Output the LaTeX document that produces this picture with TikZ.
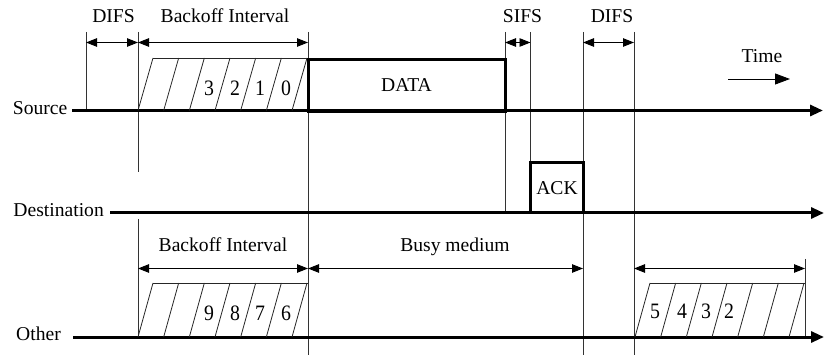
\documentclass[tikz,border=0pt]{standalone}
\usepackage{fontspec}
\setmainfont{Liberation Serif}
\usetikzlibrary{arrows.meta}
\tikzset{
  lbl/.style={inner sep=0pt, font=\fontsize{19.6}{22}\selectfont},
  digit/.style={inner sep=0pt, xscale=0.9, font=\fontsize{22}{24}\selectfont},
  timeline/.style={line width=3pt, -{Triangle[length=13pt,width=11pt]}},
  guide/.style={line width=0.8pt, black!80},
  slant/.style={line width=0.8pt, black!85},
  dim/.style={line width=0.9pt, {Triangle[length=11pt,width=8.5pt]}-{Triangle[length=11pt,width=8.5pt]}},
  pkt/.style={draw, line width=3pt, inner sep=0pt, font=\fontsize{19.6}{22}\selectfont}
}
\newcommand\bkoff[3]{%
  \draw[slant] (#1+15,#3) -- (#1+169.5,#3);
  \foreach \k in {0,...,6} {\draw[slant] (#1+\k*25.67,#2) -- (#1+\k*25.67+15,#3);}
}
\begin{document}
\begin{tikzpicture}[x=1pt,y=-1pt]
\useasboundingbox (0,0) rectangle (825,358);

% guides
\draw[guide] (86,32) -- (86,110.5);
\draw[guide] (138,32) -- (138,172);
\draw[guide] (138,219) -- (138,337);
\draw[guide] (308,32) -- (308,355);
\draw[guide] (505,32) -- (505,213);
\draw[guide] (530.5,32) -- (530.5,163);
\draw[guide] (583,32) -- (583,355);
\draw[guide] (634,32) -- (634,355);
\draw[guide] (805,259) -- (805,337);

% timelines
\coordinate (srcS) at (72,110.5);  \coordinate (srcE) at (823,110.5);
\coordinate (dstS) at (110,213);   \coordinate (dstE) at (824,213);
\coordinate (othS) at (73,337);    \coordinate (othE) at (824,337);
\draw[timeline] (srcS) -- (srcE);
\draw[timeline] (dstS) -- (dstE);
\draw[timeline] (othS) -- (othE);

\node[lbl, anchor=base east] (srcL) at (67.5,114.5) {Source};
\node[lbl, anchor=base east] (dstL) at (104,216.5) {Destination};
\node[lbl, anchor=base east] (othL) at (61,340.5) {Other};

% backoff blocks
\bkoff{138}{110.5}{58}
\bkoff{138}{337}{283}
\bkoff{635}{337}{283}

\node[digit] (s3) at (209,88) {3};
\node[digit] (s2) at (235,88) {2};
\node[digit] (s1) at (260,88) {1};
\node[digit] (s0) at (286,88) {0};
\node[digit] (o9) at (209,313) {9};
\node[digit] (o8) at (235,313) {8};
\node[digit] (o7) at (260,313) {7};
\node[digit] (o6) at (286,313) {6};
\node[digit] (r5) at (655,311) {5};
\node[digit] (r4) at (682,311) {4};
\node[digit] (r3) at (706,311) {3};
\node[digit] (r2) at (729,311) {2};

% packets
\node[pkt, minimum width=197pt, minimum height=51.5pt] (data) at (406.5,85.5) {DATA};
\node[pkt, minimum width=52.5pt, minimum height=50pt] (ack) at (557,188) {ACK};

% dimension arrows (top)
\coordinate (d1a) at (86,42.5);  \coordinate (d1b) at (138,42.5);
\coordinate (b1b) at (308,42.5);
\coordinate (s1a) at (505,42.5); \coordinate (s1b) at (530.5,42.5);
\coordinate (d2a) at (583,42.5); \coordinate (d2b) at (634,42.5);
\draw[dim] (d1a) -- (d1b);
\draw[dim] (d1b) -- (b1b);
\draw[dim] (s1a) -- (s1b);
\draw[dim] (d2a) -- (d2b);
\node[lbl, anchor=base] (difs1) at (113.5,23) {DIFS};
\node[lbl, anchor=base] (boff1) at (225,23) {Backoff Interval};
\node[lbl, anchor=base] (sifs) at (522.5,22.5) {SIFS};
\node[lbl, anchor=base] (difs2) at (612,23) {DIFS};

% time
\coordinate (tA) at (728,79); \coordinate (tB) at (790,79);
\draw[line width=0.9pt, -{Triangle[length=15pt,width=11pt]}] (tA) -- (tB);
\node[lbl, anchor=base] (time) at (762,63) {Time};

% dimension arrows (other)
\coordinate (o1a) at (138,268.5); \coordinate (o1b) at (308,268.5);
\coordinate (o2b) at (583,268.5);
\coordinate (o3a) at (634,268.5); \coordinate (o3b) at (805,268.5);
\draw[dim] (o1a) -- (o1b);
\draw[dim] (o1b) -- (o2b);
\draw[dim] (o3a) -- (o3b);
\node[lbl, anchor=base] (boff2) at (223,252) {Backoff Interval};
\node[lbl, anchor=base] (busy) at (455,252) {Busy medium};
\end{tikzpicture}
\end{document}
